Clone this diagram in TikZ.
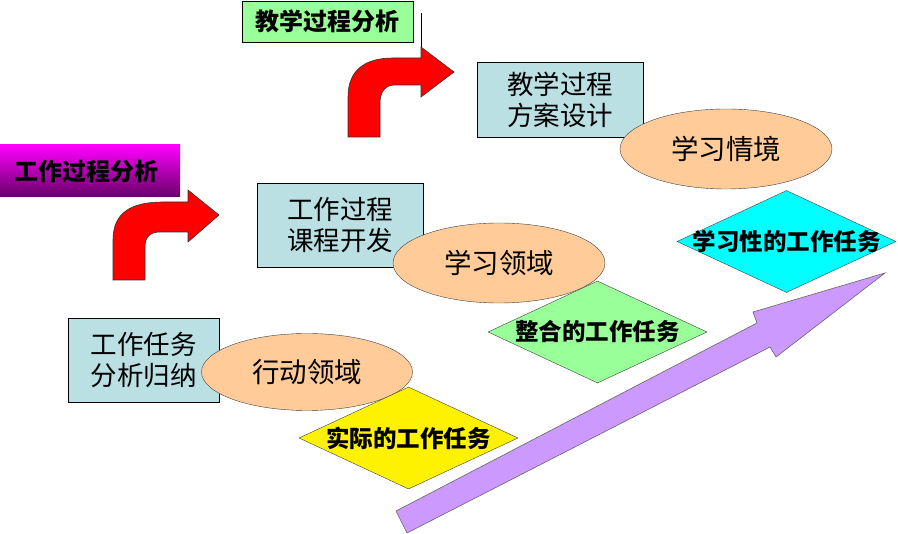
\documentclass[tikz,border=0pt]{standalone}
\usepackage{fontspec}
\newfontfamily\cjk{Noto Sans CJK SC}
\usetikzlibrary{shapes.geometric}
\definecolor{boxblue}{RGB}{186,224,228}
\definecolor{peach}{RGB}{255,204,153}
\definecolor{lightgreen}{RGB}{153,255,153}
\definecolor{aqua}{RGB}{0,255,255}
\definecolor{lilac}{RGB}{204,153,255}
\definecolor{darkpurple}{RGB}{102,0,102}

\begin{document}
\begin{tikzpicture}[
  x=1pt, y=-1pt,
  font=\cjk,
  taskbox/.style={draw, fill=boxblue, minimum width=166pt, minimum height=84pt,
                  align=center, inner sep=0pt, font=\cjk\fontsize{26.5}{31}\selectfont},
  field/.style={ellipse, draw=black!75, fill=peach, minimum width=212pt,
                minimum height=80pt, inner sep=0pt, font=\cjk\fontsize{27.5}{30}\selectfont},
  worktask/.style={diamond, draw=black!75, minimum width=219pt, minimum height=102pt,
                   inner sep=0pt, font=\cjk\bfseries\fontsize{23.5}{26}\selectfont},
  bendarr/.style={fill=red, draw=black!80, line width=0.6pt},
  stagelbl/.style={minimum height=41pt, inner sep=0pt, font=\cjk\bfseries\fontsize{24}{26}\selectfont}
]
\useasboundingbox (0,0) rectangle (898,534);

%% ---- stage labels ----
\node[stagelbl, minimum width=180pt, minimum height=52pt,
      top color=magenta, bottom color=darkpurple] (wpa) at (90,171) {\hspace*{-6pt}工作过程分析};
\node[stagelbl, draw, fill=lightgreen, minimum width=171pt] (tpa) at (327.5,21.5) {教学过程分析};

%% ---- boxes ----
\node[taskbox, minimum width=151pt] (wta) at (143.5,360) {工作任务\\分析归纳};
\node[taskbox] (wpc) at (340,225) {工作过程\\课程开发};
\node[taskbox, minimum height=75pt] (tpd) at (560,99.5) {教学过程\\方案设计};

%% ---- fields ----
\node[field, minimum width=211pt, minimum height=77pt] (act) at (307,372) {行动领域};
\node[field] (lfd) at (499,263) {学习领域};
\node[field] (lsit) at (726,149) {学习情境};

%% ---- work tasks ----
\node[worktask, fill=yellow] (real) at (408.5,438) {\makebox[0pt]{实际的工作任务}};
\node[worktask, fill=lightgreen] (integ) at (597.5,332) {\makebox[0pt]{整合的工作任务}};
\node[worktask, fill=aqua] (learn) at (786.5,241.5) {\makebox[0pt]{学习性的工作任务}};

%% ---- bent arrows ----
\draw[bendarr] (113,280) -- (113,240) .. controls (113,212) and (132,202) .. (163,202)
  -- (188,202) -- (188,190) -- (219,215) -- (188,242) -- (188,232) -- (160,232)
  .. controls (150,232) and (145,237) .. (145,247) -- (145,280) -- cycle;
\draw[bendarr] (348,137) -- (348,97) .. controls (348,70) and (365,58) .. (393,58)
  -- (421,58) -- (421,47) -- (454,72) -- (421,97) -- (421,85) -- (395,85)
  .. controls (385,85) and (380,92) .. (380,103) -- (380,137) -- cycle;
\draw[line width=0.8pt] (421,13) -- (421,47);

%% ---- rising arrow ----
\draw[fill=lilac, draw=black!60, line width=0.6pt]
  (396,511) -- (757,323) -- (753,312) -- (885,273) -- (776,357) -- (770,347)
  -- (407,533) -- cycle;

\end{tikzpicture}
\end{document}
